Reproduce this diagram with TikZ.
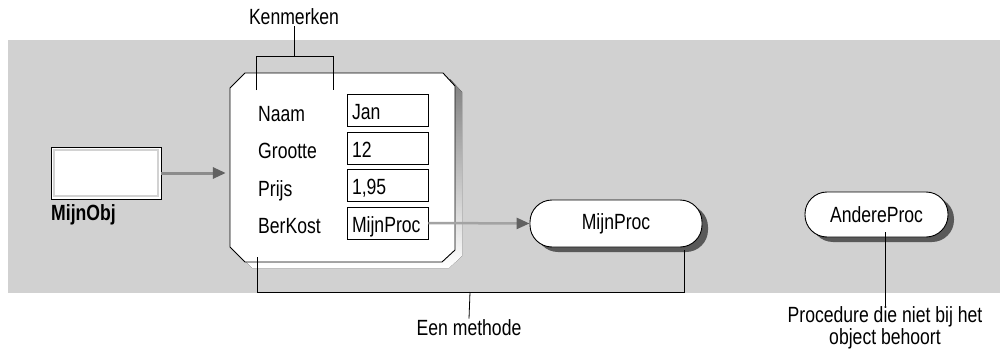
\documentclass[tikz,border=0pt]{standalone}
\usepackage{fontspec}
\setmainfont{Liberation Sans}[FakeStretch=0.8]
\usetikzlibrary{arrows.meta,calc}
\definecolor{band}{gray}{0.82}
\definecolor{shade}{gray}{0.35}
\definecolor{flow}{gray}{0.55}
\definecolor{flowtip}{gray}{0.38}
\begin{document}
\begin{tikzpicture}[x=1pt,y=-1pt,
  font=\fontsize{22}{20}\selectfont,
  lbl/.style={inner sep=0pt, anchor=base west},
  valbox/.style={draw=black, line width=0.8pt, fill=white, minimum width=81pt,
    minimum height=32pt, inner xsep=5pt, inner ysep=0pt, text width=71pt, align=left,
    text height=20pt, text depth=2pt},
  procbox/.style={draw=black, line width=0.9pt, fill=white, rounded corners=22pt,
    inner sep=0pt},
  pshadow/.style={fill=shade, rounded corners=22pt},
  link/.style={draw=black, line width=0.8pt},
  flowarrow/.style={draw=flow, line width=3pt,
    -{Triangle[length=13pt,width=11pt,color=flowtip]}},
]
\useasboundingbox (0,0) rectangle (1000,353);

% grey band behind the diagram
\fill[band] (8,40) rectangle (1000,293);

% the variable MijnObj
\node[draw=black, line width=0.9pt, fill=white, minimum width=110pt,
  minimum height=52pt, inner sep=0pt] (mo) at (106,173) {};
\draw[gray!35, line width=2pt] (54,150) rectangle (158,196);
\node[lbl, font=\fontsize{22}{20}\selectfont\bfseries] (moname) at (51,220) {MijnObj};

% the object: chamfered box with drop shadow
\node[inner sep=0pt, minimum width=225pt, minimum height=189pt] (obj) at (342.5,167.5) {};
\fill[shade, shift={(7,6)}]
  (245,73) -- (443,73) -- (455,86) -- (455,250) -- (442,262) -- (245,262)
  -- (230,247) -- (230,88) -- cycle;
\draw[fill=white, line width=0.9pt]
  (245,73) -- (443,73) -- (455,86) -- (455,250) -- (442,262) -- (245,262)
  -- (230,247) -- (230,88) -- cycle;

% properties
\node[lbl] (lnaam) at (258,121) {Naam};
\node[lbl] (lgroot) at (258,158.5) {Grootte};
\node[lbl] (lprijs) at (258,196) {Prijs};
\node[lbl] (lber) at (258,233) {BerKost};
\node[valbox] (vnaam) at (387.5,110.5) {Jan};
\node[valbox] (vgroot) at (387.5,148) {12};
\node[valbox] (vprijs) at (387.5,185.5) {1,95};
\node[valbox] (vber) at (387.5,223) {MijnProc};

% procedures
\fill[pshadow] (536,205) rectangle (708,252);
\node[procbox, minimum width=172pt, minimum height=47pt] (mp) at (616,223.5) {MijnProc};
\fill[pshadow] (811,197) rectangle (954,242);
\node[procbox, minimum width=143pt, minimum height=45pt] (ap) at (876.5,214.5) {AndereProc};

% references
\draw[flowarrow] (mo.east) -- ([xshift=-4pt]mo.east -| obj.west);
\draw[flowarrow, draw=flow!80!white, line width=2.5pt] (vber.east) -- (mp.west);

% callout: Kenmerken
\node[inner sep=1pt] (ken) at (294,17) {Kenmerken};
\coordinate (kmid) at (294,56);
\draw[link] (ken.south) -- (kmid);
\draw[link] (256,90) -- (256,56) -- (333,56) -- (333,90);

% callout: Een methode
\node[inner sep=1pt] (meth) at (469,328) {Een methode};
\coordinate (mmid) at (470,292);
\draw[link] (257,257) -- (257,292) -- (684,292) -- (684,250);
\draw[link] (mmid) -- (meth.north);

% callout: procedure outside the object
\node[inner sep=1pt, align=center] (note) at (885,328)
  {Procedure die niet bij het\\object behoort};
\draw[link] ([yshift=5pt]ap.south -| note.north) -- (note.north);
\end{tikzpicture}
\end{document}
